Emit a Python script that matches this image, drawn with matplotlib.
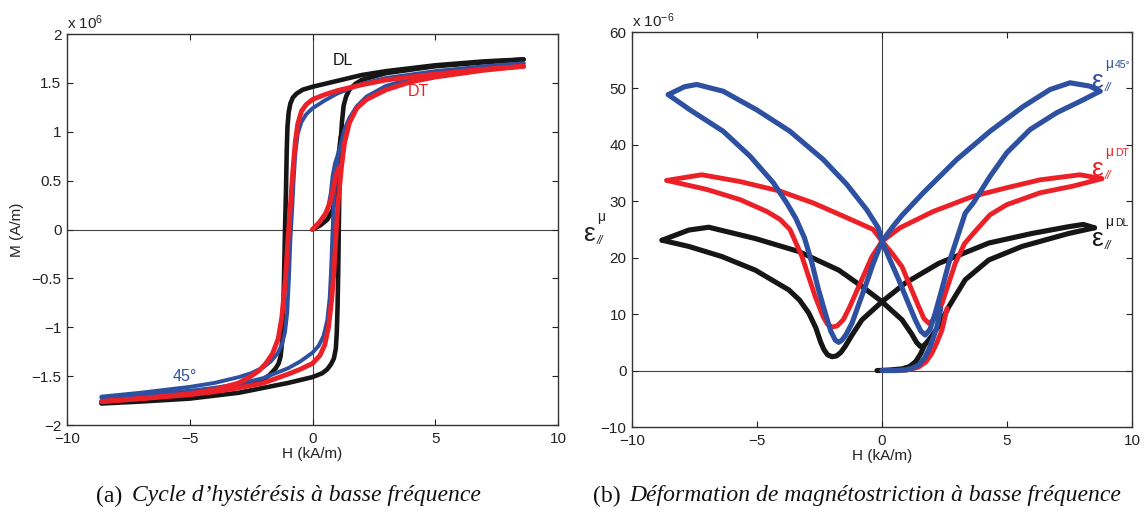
import matplotlib
matplotlib.use("Agg")
import matplotlib.pyplot as plt
from matplotlib.transforms import offset_copy

plt.rcParams['font.family'] = ['Liberation Sans', 'DejaVu Sans']
plt.rcParams['mathtext.fontset'] = 'custom'
plt.rcParams['mathtext.rm'] = 'Liberation Sans'
plt.rcParams['mathtext.it'] = 'Liberation Sans:italic'
plt.rcParams['mathtext.sf'] = 'Liberation Sans'

# ---------------- Data: (a) hysteresis M(H), H in kA/m, M in 1e6 A/m ----------------
dl_init_H = [0, 0.3, 0.6, 0.82, 0.95, 1.02, 1.08, 1.15]
dl_init_M = [0, 0.04, 0.1, 0.2, 0.35, 0.55, 0.8, 0.95]
dl_desc_H = [8.6, 7, 5, 3, 2, 1, 0, -0.4, -0.65, -0.8, -0.9, -0.97, -1.02, -1.05, -1.08, -1.12, -1.16,
             -1.2, -1.24, -1.3, -1.38, -1.5, -1.75, -2, -3, -5, -7, -8.6]
dl_desc_M = [1.74, 1.72, 1.68, 1.62, 1.58, 1.52, 1.46, 1.43, 1.39, 1.35, 1.29, 1.2, 1.05, 0.8, 0.4, 0.0, -0.5,
             -0.9, -1.15, -1.3, -1.37, -1.42, -1.49, -1.53, -1.61, -1.69, -1.74, -1.77]
dl_asc_H = [-8.6, -7, -5, -3, -2, -1, 0, 0.4, 0.6, 0.75, 0.87, 0.95, 0.99, 1.02, 1.05, 1.07, 1.1, 1.15,
            1.2, 1.27, 1.37, 1.5, 1.75, 2, 3, 5, 7, 8.6]
dl_asc_M = [-1.78, -1.76, -1.73, -1.67, -1.62, -1.57, -1.51, -1.47, -1.43, -1.38, -1.32, -1.22, -1.05, -0.8,
            -0.4, 0.0, 0.5, 0.9, 1.1, 1.27, 1.36, 1.43, 1.49, 1.53, 1.6, 1.67, 1.71, 1.74]

b45_init_H = [0, 0.28, 0.5, 0.65, 0.75, 0.82, 0.92, 1.1]
b45_init_M = [0, 0.07, 0.15, 0.24, 0.38, 0.55, 0.68, 0.82]
b45_desc_H = [8.6, 7, 5, 3, 2, 1, 0.5, 0, -0.25, -0.45, -0.6, -0.7, -0.77, -0.83, -0.9, -0.96, -1.03,
              -1.12, -1.25, -1.43, -1.7, -2, -2.5, -3, -4, -5, -7, -8.6]
b45_desc_M = [1.70, 1.67, 1.62, 1.55, 1.49, 1.39, 1.32, 1.24, 1.18, 1.1, 0.98, 0.78, 0.5, 0.2, -0.1, -0.5,
              -0.85, -1.05, -1.18, -1.27, -1.35, -1.41, -1.47, -1.51, -1.57, -1.61, -1.67, -1.71]
b45_asc_H = [-8.6, -7, -5, -4, -3, -2, -1, -0.5, 0, 0.25, 0.45, 0.6, 0.7, 0.76, 0.82, 0.88, 0.96, 1.1,
             1.3, 1.5, 1.8, 2.2, 3, 4, 5, 7, 8.6]
b45_asc_M = [-1.72, -1.69, -1.65, -1.62, -1.58, -1.52, -1.42, -1.35, -1.26, -1.19, -1.09, -0.93, -0.7, -0.4,
             0.0, 0.35, 0.6, 0.82, 1.02, 1.14, 1.26, 1.36, 1.47, 1.54, 1.59, 1.66, 1.70]

dt_init_H = [0, 0.3, 0.55, 0.72, 0.85, 0.95, 1.05, 1.18]
dt_init_M = [0, 0.08, 0.17, 0.28, 0.42, 0.55, 0.62, 0.66]
dt_desc_H = [8.6, 7, 5, 3, 2, 1, 0.5, 0, -0.25, -0.45, -0.6, -0.7, -0.8, -0.9, -1.0, -1.1, -1.25, -1.4,
             -1.63, -1.9, -2.16, -2.5, -3, -4, -5, -7, -8.6]
dt_desc_M = [1.67, 1.64, 1.59, 1.53, 1.48, 1.42, 1.38, 1.33, 1.28, 1.21, 1.08, 0.9, 0.6, 0.25, -0.1, -0.5,
             -0.9, -1.12, -1.27, -1.37, -1.44, -1.5, -1.57, -1.64, -1.68, -1.73, -1.76]
dt_asc_H = [-8.6, -7, -5, -4, -3, -2, -1, -0.5, 0, 0.3, 0.5, 0.65, 0.78, 0.88, 0.97, 1.05, 1.18, 1.3,
            1.5, 1.8, 2.2, 3, 4, 5, 7, 8.6]
dt_asc_M = [-1.76, -1.73, -1.69, -1.66, -1.62, -1.57, -1.48, -1.43, -1.37, -1.29, -1.18, -1.0, -0.72, -0.4,
            0.0, 0.3, 0.64, 0.88, 1.09, 1.24, 1.33, 1.43, 1.51, 1.56, 1.63, 1.67]

# ---------------- Data: (b) magnetostriction strain, eps in 1e-6 ----------------
edl_init_H = [-0.2, 0.3, 0.8, 1.1, 1.35, 1.55, 1.7]
edl_init_E = [0, 0.1, 0.3, 0.7, 1.6, 3.0, 4.5]
edl_desc_H = [8.5, 8.05, 7.47, 6, 4.27, 2.27, 0.93, 0, -0.8, -1.2, -1.47, -1.65, -1.82, -2.0, -2.18,
              -2.32, -2.45, -2.65, -2.93, -3.3, -3.73, -5.07, -6.4, -7.73, -8.8]
edl_desc_E = [25.3, 25.9, 25.5, 24.3, 22.6, 19.0, 15.5, 12.2, 9.0, 6.3, 4.3, 3.2, 2.6, 2.45, 2.8,
              3.7, 5.0, 7.6, 10.2, 12.5, 14.3, 17.8, 20.2, 22.0, 23.1]
edl_asc_H = [-8.8, -7.73, -6.93, -5.07, -3.33, -1.73, -0.8, 0, 0.8, 1.2, 1.38, 1.53, 1.68, 1.85, 2.05,
             2.27, 2.67, 3.33, 4.27, 5.6, 7.47, 8.5]
edl_asc_E = [23.1, 24.9, 25.4, 23.4, 21.1, 17.8, 14.9, 12.2, 9.0, 6.4, 5.0, 4.3, 4.4, 5.3, 6.5,
             7.9, 11.3, 16.1, 19.6, 22.0, 24.3, 25.3]

edt_init_H = [0, 0.5, 1.0, 1.45, 1.75, 2.0, 2.2, 2.4, 2.6]
edt_init_E = [0, 0, 0.1, 0.6, 1.5, 3.1, 5.0, 7.2, 11.0]
edt_desc_H = [8.79, 7.92, 6.32, 4.99, 3.65, 2.05, 0.72, 0, -0.4, -0.93, -1.3, -1.55, -1.8, -2.0, -2.18,
              -2.35, -2.67, -3.2, -3.68, -4.08, -4.61, -5.68, -7.01, -8.61]
edt_desc_E = [34.0, 34.7, 33.8, 32.4, 30.9, 28.2, 25.3, 22.9, 20.2, 14.9, 11.2, 9.0, 7.9, 7.7, 8.2,
              9.5, 13.1, 20.2, 25.0, 26.8, 28.2, 30.3, 32.1, 33.7]
edt_asc_H = [-8.61, -7.21, -5.68, -4.08, -2.75, -1.41, -0.35, 0, 0.4, 0.8, 1.13, 1.47, 1.68, 1.87, 2.05,
             2.22, 2.4, 2.93, 3.3, 3.79, 4.32, 4.99, 6.32, 7.65, 8.79]
edt_asc_E = [33.7, 34.7, 33.5, 31.8, 29.7, 27.1, 25.0, 22.9, 20.8, 18.4, 14.9, 11.3, 9.2, 8.4, 8.9,
             10.0, 11.9, 19.0, 22.5, 25.0, 27.6, 29.4, 31.5, 32.7, 34.0]

e45_init_H = [0, 0.5, 0.93, 1.2, 1.47, 1.7, 1.87, 2.05, 2.2, 2.35]
e45_init_E = [0, 0, 0.1, 0.4, 1.0, 2.2, 3.7, 5.8, 7.8, 11.0]
e45_desc_H = [8.72, 8.32, 7.52, 6.72, 5.65, 4.32, 2.99, 1.65, 0.8, 0.45, 0, -0.35, -0.67, -0.95, -1.2,
              -1.45, -1.6, -1.73, -1.87, -2.05, -2.27, -2.55, -2.8, -3.1, -3.45, -3.81, -4.35, -5.28,
              -6.35, -7.68, -8.55]
e45_desc_E = [49.5, 50.4, 51.0, 49.8, 46.8, 42.4, 37.4, 31.5, 27.5, 25.6, 22.9, 19.0, 14.9, 11.5, 8.4,
              6.3, 5.4, 5.0, 5.4, 7.0, 10.2, 14.5, 19.0, 23.5, 27.0, 29.7, 33.3, 38.0, 42.4, 46.2, 48.9]
e45_asc_H = [-8.55, -7.9, -7.41, -6.35, -5.01, -3.68, -2.35, -1.41, -0.61, -0.15, 0, 0.3, 0.67, 1.0,
             1.33, 1.55, 1.73, 1.92, 2.13, 2.4, 2.67, 3.33, 3.65, 4.32, 4.99, 5.92, 6.99, 7.92, 8.72]
e45_asc_E = [48.9, 50.3, 50.7, 49.5, 46.2, 42.4, 37.4, 33.0, 28.5, 25.3, 22.9, 19.8, 16.1, 12.5,
             9.0, 7.0, 6.3, 7.3, 10.2, 14.5, 19.0, 27.9, 29.7, 34.4, 38.6, 42.7, 45.7, 47.7, 49.5]

# tick definitions
xticks = [-10, -5, 0, 5, 10]
m_ticks = [-2, -1.5, -1, -0.5, 0, 0.5, 1, 1.5, 2]
e_ticks = [-10, 0, 10, 20, 30, 40, 50, 60]

BLACK = '#161616'
RED = '#ec2027'
BLUE = '#2d50a0'
TXT = '#222222'

W, H = 1146, 511
fig = plt.figure(figsize=(W / 100, H / 100), dpi=100)


def fmt(v):
    return ('%g' % v).replace('-', '\u2212')


def style(ax, yticks, ylim):
    ax.set_xlim(-10, 10)
    ax.set_ylim(*ylim)
    ax.set_xticks(xticks)
    ax.set_xticklabels([fmt(v) for v in xticks])
    ax.set_yticks(yticks)
    ax.set_yticklabels([fmt(v) for v in yticks])
    ax.tick_params(direction='in', length=4, width=0.8, top=True, right=True,
                   labelsize=11, colors=TXT)
    ax.tick_params(axis='x', pad=5)
    ax.tick_params(axis='y', pad=4)
    for sp in ax.spines.values():
        sp.set_linewidth(1.0)
        sp.set_color('#333333')
    ax.axhline(0, color='#444444', lw=0.8, zorder=1)
    ax.axvline(0, color='#444444', lw=0.8, zorder=1)
    ax.set_xlabel('H (kA/m)', fontsize=11, labelpad=1, color=TXT)


def fig_pt(px, py):
    return px / W, 1 - py / H


def eps_label(px, py, color, tag):
    """epsilon with mu superscript (+tag) and // subscript, baseline at pixel (px, py)"""
    x, y = fig_pt(px, py)
    fig.text(x, y, '\u03b5', fontsize=19, color=color, ha='left', va='baseline')
    fig.text(x, y, '\u03bc', fontsize=10, color=color, ha='left', va='baseline',
             transform=offset_copy(fig.transFigure, fig=fig, x=14, y=20, units='dots'))
    if tag:
        fig.text(x, y, tag, fontsize=7.5, color=color, ha='left', va='baseline',
                 transform=offset_copy(fig.transFigure, fig=fig, x=24, y=20, units='dots'))
    fig.text(x, y, '//', fontsize=8.5, color=color, ha='left', va='baseline', style='italic',
             transform=offset_copy(fig.transFigure, fig=fig, x=14, y=-3, units='dots'))


# ---------- panel (a) ----------
ax1 = fig.add_axes([67 / W, 1 - 425 / H, 491 / W, 391 / H])
style(ax1, m_ticks, (-2, 2))
for (ih, im, dh, dm, ah, am, c, lw) in [
        (dl_init_H, dl_init_M, dl_desc_H, dl_desc_M, dl_asc_H, dl_asc_M, BLACK, 3.3),
        (b45_init_H, b45_init_M, b45_desc_H, b45_desc_M, b45_asc_H, b45_asc_M, BLUE, 2.8),
        (dt_init_H, dt_init_M, dt_desc_H, dt_desc_M, dt_asc_H, dt_asc_M, RED, 3.5)]:
    for xs, ys in [(ih, im), (dh, dm), (ah, am)]:
        ax1.plot(xs, ys, color=c, lw=lw, solid_capstyle='round', solid_joinstyle='round', zorder=3)
ax1.set_ylabel('M (A/m)', fontsize=11, labelpad=5, color=TXT)
ax1.text(0.0, 1.006, r'x 10$^{6}$', transform=ax1.transAxes, fontsize=11, ha='left', va='bottom', color=TXT)
ax1.text(1.22, 1.73, 'DL', color=BLACK, fontsize=11.5, ha='center', va='center')
ax1.text(4.32, 1.41, 'DT', color=RED, fontsize=11.5, ha='center', va='center')
ax1.text(-5.2, -1.5, '45°', color=BLUE, fontsize=11.5, ha='center', va='center')

# ---------- panel (b) ----------
ax2 = fig.add_axes([632 / W, 1 - 427 / H, 500 / W, 395 / H])
style(ax2, e_ticks, (-10, 60))
for (ih, ie, dh, de, ah, ae, c, lw) in [
        (edl_init_H, edl_init_E, edl_desc_H, edl_desc_E, edl_asc_H, edl_asc_E, BLACK, 3.7),
        (edt_init_H, edt_init_E, edt_desc_H, edt_desc_E, edt_asc_H, edt_asc_E, RED, 3.5),
        (e45_init_H, e45_init_E, e45_desc_H, e45_desc_E, e45_asc_H, e45_asc_E, BLUE, 3.7)]:
    for xs, ys in [(ih, ie), (dh, de), (ah, ae)]:
        ax2.plot(xs, ys, color=c, lw=lw, solid_capstyle='round', solid_joinstyle='round', zorder=3)
ax2.text(0.0, 1.006, 'x 10$^{\u2212 6}$'.replace('\u2212 ', '\u2212'), transform=ax2.transAxes,
         fontsize=11, ha='left', va='bottom', color=TXT)

eps_label(583, 241, TXT, '')
eps_label(1091, 88, BLUE, '45°')
eps_label(1091, 176, RED, 'DT')
eps_label(1091, 246, BLACK, 'DL')

# ---------- captions ----------
cap_y = 1 - 496 / H
fig.text(96 / W, cap_y, '(a)', fontsize=17, family='Liberation Serif', ha='left', va='center', color='#111111')
fig.text(132 / W, cap_y, 'Cycle d\u2019hyst\u00e9r\u00e9sis \u00e0 basse fr\u00e9quence', fontsize=17,
         family='Liberation Serif', style='italic', ha='left', va='center', color='#111111')
fig.text(593 / W, cap_y, '(b)', fontsize=17, family='Liberation Serif', ha='left', va='center', color='#111111')
fig.text(629 / W, cap_y, 'D\u00e9formation de magn\u00e9tostriction \u00e0 basse fr\u00e9quence', fontsize=17,
         family='Liberation Serif', style='italic', ha='left', va='center', color='#111111')

fig.savefig('out.png', dpi=100)
